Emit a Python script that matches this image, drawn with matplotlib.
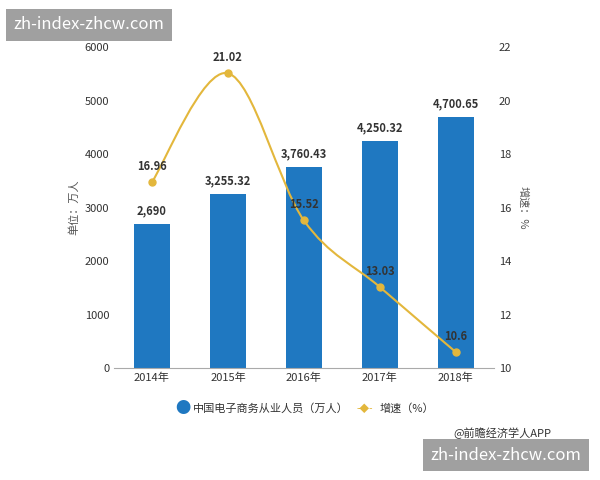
import numpy as np
import matplotlib
matplotlib.use('Agg')
import matplotlib.pyplot as plt
from matplotlib.path import Path
from matplotlib.patches import PathPatch

plt.rcParams['font.family'] = ['Noto Sans CJK SC', 'DejaVu Sans']

years = ['2014年', '2015年', '2016年', '2017年', '2018年']
people = [2690, 3255.32, 3760.43, 4250.32, 4700.65]
people_labels = ['2,690', '3,255.32', '3,760.43', '4,250.32', '4,700.65']
growth = [16.96, 21.02, 15.52, 13.03, 10.6]
growth_labels = ['16.96', '21.02', '15.52', '13.03', '10.6']

blue = '#1f78c1'
gold = '#e3b73c'

fig = plt.figure(figsize=(6, 4.8), dpi=100)
ax = fig.add_axes([0.19, 0.233, 0.633, 0.669])
x = np.arange(len(years))
ax.bar(x, people, width=0.48, color=blue, zorder=2)
for xi, v, s in zip(x, people, people_labels):
    ax.text(xi, v + 120, s, ha='center', va='bottom', fontsize=8, fontweight='bold', color='#333333')
ax.set_ylim(0, 6000)
ax.set_yticks(range(0, 6001, 1000))
ax.set_xlim(-0.5, 4.5)
ax.set_xticks(x)
ax.set_xticklabels(years)
ax.set_ylabel('单位：万人', fontsize=8, color='#555555')
ax.tick_params(labelsize=8, colors='#333333', length=0)
for sp in ['top', 'right', 'left']:
    ax.spines[sp].set_visible(False)
ax.spines['bottom'].set_color('#aaaaaa')

ax2 = ax.twinx()
ax2.set_ylim(10, 22)
ax2.set_yticks(range(10, 23, 2))
ax2.set_ylabel('增速：%', fontsize=8, color='#555555', rotation=270, labelpad=12)
ax2.tick_params(labelsize=8, colors='#333333', length=0)
for sp in ['top', 'right', 'left', 'bottom']:
    ax2.spines[sp].set_visible(False)

# smooth curve through the points (bezier segments, Catmull-Rom style)
pts = np.column_stack([x, growth]).astype(float)
verts = [pts[0]]
codes = [Path.MOVETO]
for i in range(len(pts) - 1):
    p0 = pts[i - 1] if i > 0 else pts[i]
    p3 = pts[i + 2] if i + 2 < len(pts) else pts[i + 1]
    c1 = pts[i] + (pts[i + 1] - p0) / 6
    c2 = pts[i + 1] - (p3 - pts[i]) / 6
    verts += [c1, c2, pts[i + 1]]
    codes += [Path.CURVE4] * 3
ax2.add_patch(PathPatch(Path(verts, codes), fill=False, edgecolor=gold, lw=1.5, zorder=3))
ax2.plot(x, growth, 'o', color=gold, ms=5, zorder=4)
for xi, v, s in zip(x, growth, growth_labels):
    ax2.text(xi, v + 0.35, s, ha='center', va='bottom', fontsize=8, fontweight='bold', color='#333333', zorder=5)

# legend
fig.text(0.305, 0.148, '●', color=blue, fontsize=11, ha='center', va='center')
fig.text(0.322, 0.148, '中国电子商务从业人员（万人）', fontsize=8, va='center', color='#333333')
fig.text(0.608, 0.148, '-◆-', color=gold, fontsize=7, ha='center', va='center')
fig.text(0.632, 0.148, '增速（%）', fontsize=8, va='center', color='#333333')
fig.text(0.755, 0.098, '@前瞻经济学人APP', fontsize=8, color='#333333', va='center')

# watermarks
fig.text(0.022, 0.948, 'zh-index-zhcw.com', fontsize=12, color='white', va='center',
         bbox=dict(boxstyle='square,pad=0.45', fc='#a0a0a0', ec='none'))
fig.text(0.718, 0.052, 'zh-index-zhcw.com', fontsize=12, color='white', va='center',
         bbox=dict(boxstyle='square,pad=0.45', fc='#a0a0a0', ec='none'))

fig.savefig('out.png', dpi=100)
